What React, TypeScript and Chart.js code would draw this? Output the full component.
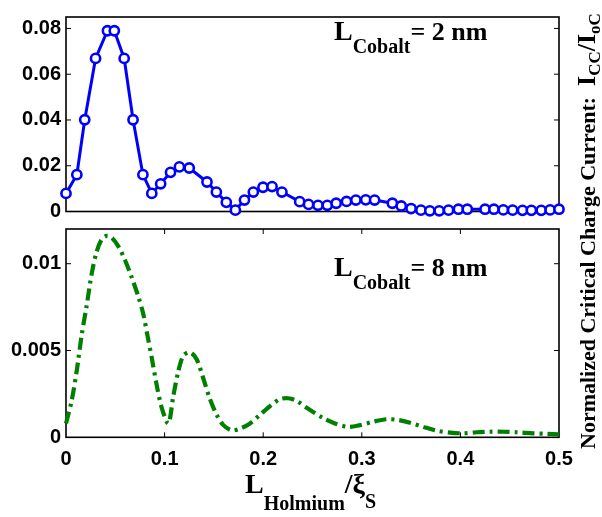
import { useEffect, useRef } from 'react';
import { Chart, registerables } from 'chart.js';
Chart.register(...registerables);

// ---------- data ----------
const X_TICKS = [0, 0.1, 0.2, 0.3, 0.4, 0.5];
const X_TICK_LABELS = ['0', '0.1', '0.2', '0.3', '0.4', '0.5'];
const TOP_Y_TICKS = [0, 0.02, 0.04, 0.06, 0.08];
const TOP_Y_TICK_LABELS = ['0', '0.02', '0.04', '0.06', '0.08'];
const BOTTOM_Y_TICKS = [0, 0.005, 0.01];
const BOTTOM_Y_TICK_LABELS = ['0', '0.005', '0.01'];

// L_Cobalt = 2 nm (blue circles)
const TOP_X = [
  0, 0.011, 0.019, 0.03, 0.042, 0.049, 0.059, 0.068, 0.078, 0.087, 0.096, 0.106, 0.115, 0.125,
  0.143, 0.1525, 0.1626, 0.1718, 0.181, 0.19, 0.1998, 0.209, 0.219, 0.237, 0.246, 0.2556, 0.265,
  0.274, 0.2845, 0.294, 0.304, 0.313, 0.331, 0.34, 0.35, 0.36, 0.369, 0.3785, 0.388, 0.398, 0.407,
  0.425, 0.434, 0.4435, 0.453, 0.463, 0.472, 0.482, 0.491, 0.5,
];
const TOP_Y = [
  0.0079, 0.0161, 0.0401, 0.0669, 0.079, 0.079, 0.0669, 0.0401, 0.0161, 0.0079, 0.0121, 0.0171, 0.0195, 0.019,
  0.0129, 0.0085, 0.004, 0.0006, 0.005, 0.0085, 0.0106, 0.0109, 0.0085, 0.0043, 0.0031, 0.0027, 0.0027,
  0.0036, 0.0044, 0.005, 0.0051, 0.005, 0.0036, 0.0024, 0.0013, 0.0006, 0.0003, 0.0003, 0.0006, 0.001, 0.001,
  0.001, 0.001, 0.0007, 0.0006, 0.0005, 0.0005, 0.0005, 0.0007, 0.001,
];

// L_Cobalt = 8 nm (green dash-dot)
const BOTTOM_X = [
  0, 0.0057, 0.0108, 0.0159, 0.021, 0.026, 0.0311, 0.0362, 0.0413, 0.0463, 0.0531, 0.0599, 0.0667,
  0.0734, 0.0784, 0.0825, 0.0869, 0.092, 0.0971, 0.1038, 0.1089, 0.1139, 0.119, 0.1258, 0.1325,
  0.1392, 0.146, 0.1528, 0.1596, 0.1681, 0.1765, 0.1866, 0.1968, 0.2069, 0.2171, 0.2255, 0.234,
  0.2441, 0.261, 0.2728, 0.2863, 0.2982, 0.3117, 0.3252, 0.337, 0.3489, 0.3624, 0.3759, 0.3895,
  0.403, 0.4165, 0.43, 0.4435, 0.457, 0.474, 0.4875, 0.5,
];
const BOTTOM_Y = [
  0.0008, 0.0021, 0.0038, 0.0059, 0.0076, 0.0094, 0.0107, 0.0114, 0.0116, 0.0115, 0.011, 0.0102, 0.0092,
  0.0081, 0.0071, 0.0059, 0.0046, 0.003, 0.0017, 0.0008, 0.0024, 0.0038, 0.0047, 0.0049, 0.0045,
  0.0034, 0.0022, 0.0013, 0.0007, 0.0004, 0.0005, 0.0008, 0.0013, 0.0018, 0.0022, 0.00225, 0.0021,
  0.0017, 0.0011, 0.0008, 0.0006, 0.0007, 0.0009, 0.00104, 0.001, 0.00084, 0.0006, 0.00038, 0.00027,
  0.00023, 0.00029, 0.00032, 0.00032, 0.00029, 0.00023, 0.0002, 0.00017,
];

const SERIF = '"Liberation Serif", "Times New Roman", serif';
const SANS = '"Liberation Sans", Arial, sans-serif';

type Run = { text: string; size: number; dy: number };
function drawRuns(ctx: CanvasRenderingContext2D, x: number, y: number, runs: Run[]) {
  let cx = x;
  for (const r of runs) {
    ctx.font = `bold ${r.size}px ${SERIF}`;
    ctx.fillText(r.text, cx, y + r.dy);
    cx += ctx.measureText(r.text).width;
  }
  return cx - x;
}

function framePlugin(yTicks: number[], xTicks: number[] | null) {
  return {
    id: 'frame',
    beforeDatasetsDraw(chart: any) {
      const { ctx, chartArea: a, scales } = chart;
      ctx.save();
      ctx.strokeStyle = '#000';
      ctx.lineWidth = 1.6;
      ctx.strokeRect(a.left, a.top, a.right - a.left, a.bottom - a.top);
      ctx.lineWidth = 1;
      const L = 5;
      ctx.beginPath();
      for (const v of yTicks) {
        const p = scales.y.getPixelForValue(v);
        if (p <= a.top + 1 || p >= a.bottom - 1) continue;
        ctx.moveTo(a.left, p); ctx.lineTo(a.left + L, p);
        ctx.moveTo(a.right, p); ctx.lineTo(a.right - L, p);
      }
      if (xTicks) {
        for (const v of xTicks) {
          const p = scales.x.getPixelForValue(v);
          if (p <= a.left + 1 || p >= a.right - 1) continue;
          ctx.moveTo(p, a.bottom); ctx.lineTo(p, a.bottom - L);
          ctx.moveTo(p, a.top); ctx.lineTo(p, a.top + L);
        }
      }
      ctx.stroke();
      ctx.restore();
    },
  };
}

function textPlugin(draw: (ctx: CanvasRenderingContext2D, chart: any) => void) {
  return {
    id: 'texts',
    afterDraw(chart: any) {
      const ctx = chart.ctx as CanvasRenderingContext2D;
      ctx.save();
      ctx.fillStyle = '#000';
      ctx.textAlign = 'left';
      ctx.textBaseline = 'alphabetic';
      draw(ctx, chart);
      ctx.restore();
    },
  };
}

const tickFont = { family: SANS, size: 20, weight: 'bold' as const };

export default function App() {
  const topRef = useRef<HTMLCanvasElement>(null);
  const botRef = useRef<HTMLCanvasElement>(null);

  useEffect(() => {
    const top = new Chart(topRef.current!, {
      type: 'line',
      data: {
        datasets: [
          {
            data: TOP_X.map((x, i) => ({ x, y: TOP_Y[i] })),
            borderColor: 'rgb(0,0,255)',
            borderWidth: 3,
            pointRadius: 4.6,
            pointBorderWidth: 2.6,
            pointBorderColor: 'rgb(0,0,255)',
            pointBackgroundColor: '#fff',
            tension: 0,
            clip: false as any,
          },
        ],
      },
      options: {
        responsive: false,
        animation: false,
        events: [],
        layout: { padding: { left: 0, right: 43, top: 4, bottom: 305.5 } },
        plugins: { legend: { display: false }, tooltip: { enabled: false } },
        scales: {
          x: { type: 'linear', min: 0, max: 0.5, display: false },
          y: {
            type: 'linear',
            min: 0,
            max: 0.085,
            grid: { display: false, drawTicks: false },
            border: { display: false },
            afterBuildTicks: (s: any) => { s.ticks = TOP_Y_TICKS.map((v) => ({ value: v })); },
            afterFit: (s: any) => { s.width = 66; },
            ticks: {
              font: tickFont,
              color: '#000',
              padding: 5,
              callback: (_v: any, i: number) => TOP_Y_TICK_LABELS[i],
            },
          },
        },
      },
      plugins: [
        framePlugin(TOP_Y_TICKS, null),
        textPlugin((ctx) => {
          drawRuns(ctx, 334, 40, [
            { text: 'L', size: 28, dy: 0 },
            { text: 'Cobalt', size: 20, dy: 13 },
            { text: '= 2 nm', size: 26, dy: 0 },
          ]);
        }),
      ],
    });

    const bot = new Chart(botRef.current!, {
      type: 'line',
      data: {
        datasets: [
          {
            data: BOTTOM_X.map((x, i) => ({ x, y: BOTTOM_Y[i] })),
            borderColor: 'rgb(0,128,0)',
            borderWidth: 4.2,
            borderDash: [12, 5, 3, 5],
            pointRadius: 0,
            tension: 0.3,
            clip: false as any,
          },
        ],
      },
      options: {
        responsive: false,
        animation: false,
        events: [],
        layout: { padding: { left: 0, right: 43, top: 229, bottom: 39.7 } },
        plugins: { legend: { display: false }, tooltip: { enabled: false } },
        scales: {
          x: {
            type: 'linear',
            min: 0,
            max: 0.5,
            grid: { display: false, drawTicks: false },
            border: { display: false },
            afterBuildTicks: (s: any) => { s.ticks = X_TICKS.map((v) => ({ value: v })); },
            afterFit: (s: any) => { s.height = 40; },
            ticks: {
              font: tickFont,
              color: '#000',
              padding: 10,
              maxRotation: 0,
              autoSkip: false,
              callback: (_v: any, i: number) => X_TICK_LABELS[i],
            },
          },
          y: {
            type: 'linear',
            min: 0,
            max: 0.012,
            grid: { display: false, drawTicks: false },
            border: { display: false },
            afterBuildTicks: (s: any) => { s.ticks = BOTTOM_Y_TICKS.map((v) => ({ value: v })); },
            afterFit: (s: any) => { s.width = 66; },
            ticks: {
              font: tickFont,
              color: '#000',
              padding: 5,
              callback: (_v: any, i: number) => BOTTOM_Y_TICK_LABELS[i],
            },
          },
        },
      },
      plugins: [
        framePlugin(BOTTOM_Y_TICKS, X_TICKS),
        textPlugin((ctx) => {
          drawRuns(ctx, 334, 276, [
            { text: 'L', size: 28, dy: 0 },
            { text: 'Cobalt', size: 20, dy: 13 },
            { text: '= 8 nm', size: 26, dy: 0 },
          ]);
          // x-axis title
          drawRuns(ctx, 245, 493, [
            { text: 'L', size: 28, dy: 0 },
            { text: 'Holmium', size: 20, dy: 17 },
            { text: '/\u03BE', size: 28, dy: 0 },
            { text: 'S', size: 20, dy: 15 },
          ]);
          // right-side y title (rotated)
          ctx.save();
          ctx.translate(595, 449);
          ctx.rotate(-Math.PI / 2);
          drawRuns(ctx, 0, 0, [
            { text: 'Normalized Critical Charge Current:  ', size: 22, dy: 0 },
            { text: 'I', size: 26, dy: 0 },
            { text: 'CC', size: 17, dy: 5 },
            { text: '/', size: 26, dy: 0 },
            { text: 'I', size: 26, dy: 0 },
            { text: 'oC', size: 17, dy: 5 },
          ]);
          ctx.restore();
        }),
      ],
    });

    return () => {
      top.destroy();
      bot.destroy();
    };
  }, []);

  return (
    <div style={{ position: 'fixed', left: 0, top: 0, width: 602, height: 517, background: '#fff' }}>
      <canvas ref={topRef} width={602} height={517} style={{ position: 'absolute', left: 0, top: 0 }} />
      <canvas ref={botRef} width={602} height={517} style={{ position: 'absolute', left: 0, top: 0 }} />
    </div>
  );
}
